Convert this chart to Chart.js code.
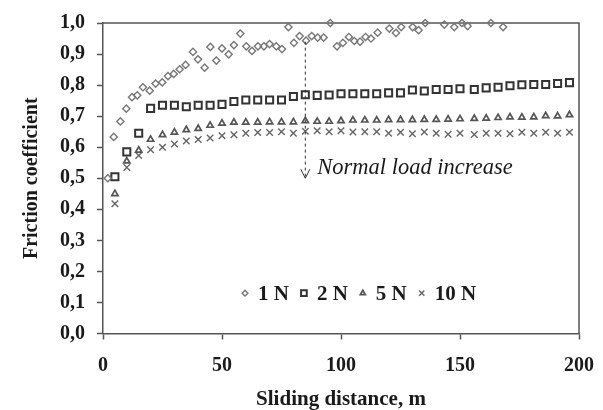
<!DOCTYPE html>
<html>
<head>
<meta charset="utf-8">
<script src="https://cdn.jsdelivr.net/npm/chart.js@4/dist/chart.umd.min.js"></script>
<style>
  html, body { margin: 0; padding: 0; background: #fff; }
  #wrap { width: 603px; height: 410px; position: relative; }
</style>
</head>
<body>
<div id="wrap"><canvas id="friction"></canvas></div>
<script>
// --- datos ---
const dist = [5, 10, 15, 20, 25, 30, 35, 40, 45, 50, 55, 60, 65, 70, 75, 80, 85, 90, 95, 100,
  105, 110, 115, 120, 125, 130, 135, 140, 145, 150, 156, 161, 166, 171, 176, 181, 186, 191, 196];

const mu2N = [0.505, 0.585, 0.645, 0.725, 0.735, 0.735, 0.73, 0.735, 0.735, 0.738,
  0.747, 0.752, 0.752, 0.752, 0.752, 0.763, 0.769, 0.767, 0.768, 0.772,
  0.772, 0.772, 0.772, 0.775, 0.775, 0.784, 0.781, 0.786, 0.786, 0.788,
  0.786, 0.791, 0.793, 0.798, 0.801, 0.802, 0.802, 0.805, 0.808];

const mu5N = [0.45, 0.555, 0.59, 0.625, 0.64, 0.648, 0.656, 0.66, 0.67, 0.677,
  0.68, 0.68, 0.68, 0.681, 0.681, 0.681, 0.685, 0.683, 0.683, 0.685,
  0.687, 0.687, 0.687, 0.688, 0.688, 0.688, 0.689, 0.689, 0.69, 0.691,
  0.692, 0.693, 0.695, 0.697, 0.696, 0.697, 0.701, 0.70, 0.704];

const mu10N = [0.418, 0.535, 0.573, 0.592, 0.60, 0.61, 0.62, 0.625, 0.63, 0.637,
  0.64, 0.645, 0.647, 0.647, 0.65, 0.645, 0.651, 0.653, 0.65, 0.653,
  0.649, 0.65, 0.65, 0.645, 0.648, 0.643, 0.649, 0.645, 0.642, 0.645,
  0.641, 0.645, 0.645, 0.643, 0.648, 0.645, 0.648, 0.645, 0.648];

// la serie de 1 N tiene su propio muestreo
const dist1N = [2, 4.5, 7.3, 9.8, 12.2, 14.4, 16.8, 19.6, 22.1, 24.9, 27.3, 29.7, 32.2, 34.7,
  37.8, 39.9, 42.7, 45.1, 47.6, 50, 52.8, 55, 57.7, 60.2, 62.6, 65.1, 67.6, 70, 72.8, 75.2,
  77.9, 80.2, 82.6, 85.3, 87.7, 90.2, 92.7, 95.5, 98.3, 100.8, 103.3, 105.6, 108, 110.3,
  112.6, 115.4, 120.3, 123.1, 125.3, 130.1, 132.6, 135.4, 143.4, 147.6, 150.8, 153.2, 163, 168.1];
const mu1N = [0.50, 0.633, 0.683, 0.724, 0.761, 0.767, 0.793, 0.782, 0.805, 0.809, 0.829, 0.836,
  0.851, 0.865, 0.907, 0.883, 0.856, 0.923, 0.879, 0.918, 0.899, 0.929, 0.966, 0.925, 0.91,
  0.925, 0.925, 0.932, 0.925, 0.916, 0.987, 0.936, 0.958, 0.943, 0.958, 0.953, 0.953, 1.0,
  0.925, 0.936, 0.955, 0.942, 0.94, 0.955, 0.95, 0.969, 0.982, 0.968, 0.987, 0.987, 0.977,
  1.0, 0.995, 0.987, 1.0, 0.99, 1.0, 0.987];

const loadLabels = ['1 N', '2 N', '5 N', '10 N'];
const yTicks = { min: 0, max: 1, step: 0.1 };
const xTicks = { min: 0, max: 200, step: 50 };

// flecha "Normal load increase"
const arrowX = 85;
const arrowFrom = 0.94;
const arrowTo = 0.50;
const noteText = 'Normal load increase';

const SERIF = "'Liberation Serif', 'Times New Roman', serif";
const AXIS = '#555';
const INK = '#1a1a1a';

const pts = (xs, ys) => xs.map((x, i) => ({ x: x, y: ys[i] }));

const styles = [
  { pointStyle: 'rectRot', radius: 3.6, color: '#777', width: 1.4 },
  { pointStyle: 'rect', radius: 5, color: '#333', width: 2 },
  { pointStyle: 'triangle', radius: 3.6, color: '#555', width: 1.7 },
  { pointStyle: 'crossRot', radius: 4.6, color: '#666', width: 1.4 }
];

const seriesData = [pts(dist1N, mu1N), pts(dist, mu2N), pts(dist, mu5N), pts(dist, mu10N)];

const datasets = seriesData.map((d, i) => ({
  label: loadLabels[i],
  data: d,
  showLine: false,
  clip: false,
  pointStyle: styles[i].pointStyle,
  pointRadius: styles[i].radius,
  pointBorderColor: styles[i].color,
  pointBorderWidth: styles[i].width,
  pointBackgroundColor: 'rgba(255,255,255,0)'
}));

// marco superior/derecho, flecha, nota y leyenda interior
const decor = {
  id: 'decor',
  beforeDatasetsDraw(chart) {
    const { ctx, chartArea: a } = chart;
    ctx.save();
    ctx.strokeStyle = AXIS;
    ctx.lineWidth = 1.5;
    ctx.beginPath();
    ctx.moveTo(a.left, a.top);
    ctx.lineTo(a.right, a.top);
    ctx.lineTo(a.right, a.bottom);
    ctx.stroke();
    ctx.restore();
  },
  afterDatasetsDraw(chart) {
    const { ctx, scales: { x, y } } = chart;
    const px = x.getPixelForValue(arrowX);
    const y0 = y.getPixelForValue(arrowFrom);
    const y1 = y.getPixelForValue(arrowTo);

    ctx.save();
    ctx.strokeStyle = '#333';
    ctx.lineWidth = 1;
    ctx.setLineDash([3, 3]);
    ctx.beginPath();
    ctx.moveTo(px, y0);
    ctx.lineTo(px, y1);
    ctx.stroke();
    ctx.setLineDash([]);
    ctx.beginPath();
    ctx.moveTo(px - 4.5, y1 - 9);
    ctx.lineTo(px, y1);
    ctx.lineTo(px + 4.5, y1 - 9);
    ctx.stroke();

    ctx.fillStyle = INK;
    ctx.font = 'italic 22.5px ' + SERIF;
    ctx.textBaseline = 'alphabetic';
    ctx.textAlign = 'left';
    ctx.fillText(noteText, px + 12, y1 - 4);

    // leyenda dentro del área
    const ly = y.getPixelForValue(0.13);
    let cx = 245;
    ctx.font = 'bold 21px ' + SERIF;
    ctx.textBaseline = 'middle';
    loadLabels.forEach((lab, i) => {
      const st = styles[i];
      ctx.strokeStyle = st.color;
      ctx.fillStyle = 'rgba(255,255,255,0)';
      ctx.lineWidth = st.width;
      Chart.helpers.drawPoint(ctx, {
        pointStyle: st.pointStyle,
        radius: st.radius * 0.8,
        rotation: 0,
        borderWidth: st.width
      }, cx, ly);
      ctx.fillStyle = INK;
      ctx.fillText(lab, cx + 13, ly + 1);
      cx = cx + 13 + ctx.measureText(lab).width + 15;
    });
    ctx.restore();
  }
};

new Chart(document.getElementById('friction'), {
  type: 'scatter',
  data: { datasets: datasets },
  options: {
    responsive: true,
    maintainAspectRatio: false,
    animation: false,
    layout: { padding: { top: 23, right: 24, left: 0, bottom: 0 } },
    plugins: { legend: { display: false }, tooltip: { enabled: false } },
    scales: {
      x: {
        type: 'linear',
        min: xTicks.min,
        max: xTicks.max,
        ticks: {
          stepSize: xTicks.step,
          color: INK,
          padding: 14,
          font: { family: SERIF, size: 20, weight: 'bold' }
        },
        grid: { drawOnChartArea: false, tickLength: 6, color: AXIS, tickWidth: 1.5 },
        border: { color: AXIS, width: 1.5 },
        title: {
          display: true,
          text: 'Sliding distance, m',
          color: INK,
          font: { family: SERIF, size: 21, weight: 'bold', lineHeight: 1 },
          padding: { top: 0, bottom: 0 }
        },
        afterFit: (s) => {
          s.height = 76.5;
          s.paddingLeft = 0;
          s.paddingRight = 0;
        }
      },
      y: {
        type: 'linear',
        min: yTicks.min,
        max: yTicks.max,
        ticks: {
          stepSize: yTicks.step,
          color: INK,
          padding: 12,
          font: { family: SERIF, size: 20, weight: 'bold' },
          callback: (v) => v.toFixed(1).replace('.', ',')
        },
        grid: { drawOnChartArea: false, tickLength: 6, color: AXIS, tickWidth: 1.5 },
        border: { color: AXIS, width: 1.5 },
        title: {
          display: true,
          text: 'Friction coefficient',
          color: INK,
          font: { family: SERIF, size: 20, weight: 'bold', lineHeight: 1 },
          padding: { top: 22, bottom: 0 }
        },
        afterFit: (s) => {
          s.width = 103;
          s.paddingTop = 0;
          s.paddingBottom = 0;
        }
      }
    }
  },
  plugins: [decor]
});
</script>
</body>
</html>
